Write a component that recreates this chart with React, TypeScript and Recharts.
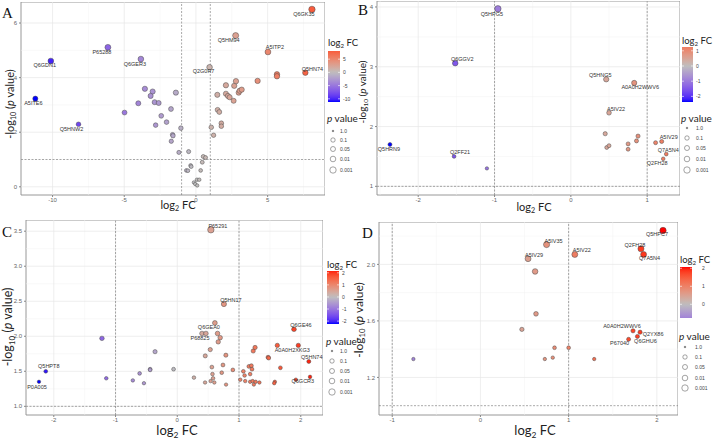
import { ReferenceArea, ReferenceLine, Scatter, ScatterChart, XAxis, YAxis, ZAxis } from "recharts";

// ---------- panel A ----------
const aFc = [
  8.09, 2.77, 5.02, 7.63, 0.95, -6.14, -10.12, -3.84, -11.2, -8.19,
  5.65, 5.65, -4.98, -4.02, -3.56, -3.02, -3.16, -2.88, -2.6, -2.81, -2.42, -2.05, -1.74, -1.4,
  -1.63, -1.6, -1.72, -1.05, -1.19, -0.51, -0.37, -0.33, -0.67, -0.56, 0.33, 0.44, 0.51, 0.67,
  0.07, 0.23, -0.14, -0.05, 0.09, 1.07, 1.23, 1.49, 1.51, 1.63, 1.77, 1.77, 2.09, 2.09, 2.23,
  2.35, 2.63, 2.67, 2.79, 2.98, 3.05, 3.19, 4.3
];
const aLogP = [
  6.5, 5.54, 4.94, 4.18, 4.38, 5.11, 4.61, 4.68, 3.23, 2.29,
  4.12, 4.05, 2.72, 3.06, 3.59, 3.49, 3.33, 3.1, 3.07, 2.26, 2.6, 2.37, 2.85, 3.45,
  1.91, 1.87, 1.67, 2.15, 1.26, 1.29, 0.78, 0.74, 0.6, 0.59, 0.6, 0.9, 1.11, 1.07,
  0.26, 0.26, 0.16, 0.1, 0.05, 2.18, 1.89, 3.37, 2.82, 2.74, 2.33, 2.22, 3.72, 3.41, 3.33,
  3.28, 3.15, 3.7, 3.87, 3.45, 3.52, 3.56, 3.88
];
const aLabels = ["Q6GK35", "Q5HM94", "A5ITP2", "Q5HN74", "Q2G0R7", "P65288", "Q6GDN1", "Q6GER3", "A5ITE6", "Q5HNW2"];
const aXTicks = [-10, -5, 0, 5];
const aYTicks = [0, 2, 4, 6];
const aLegendTicks = [5, 0, -5, -10];

// ---------- panel B ----------
const bFc = [
  -0.956, -1.515, -2.37, -1.53, 0.463, 0.83, 0.5, 1.19, 1.25, 1.21,
  -1.1, 0.45, 0.47, 0.5, 0.75, 0.75, 0.88, 0.86, 1.11
];
const bLogP = [
  3.97, 3.06, 1.7, 1.5, 2.79, 2.73, 2.23, 1.75, 1.54, 1.46,
  1.3, 1.88, 1.65, 1.68, 1.71, 1.62, 1.84, 1.76, 1.73
];
const bLabels = ["Q5HPG5", "Q6GGV2", "Q5HRN9", "Q2FF21", "Q5HNG5", "A0A0H2WWV6", "A5IV22", "A5IV29", "Q7A5N4", "Q2FH28"];
const bXTicks = [-2, -1, 0, 1];
const bYTicks = [1, 2, 3, 4];
const bLegendTicks = [1, 0, -1, -2];

// ---------- panel C ----------
const cFc = [
  0.544, 0.755, 0.609, 0.4, 1.89, 1.96, 2.13, 1.92, -2.13, -2.24,
  0.464, 0.652, 0.695, 0.663, 0.534, 0.787, 0.453, -0.36, -1.22, -1.15, -0.72, -0.61, -0.54,
  -0.44, -0.44, -0.06, 0.27, 0.45, 0.56, 0.57, 0.58, 0.54, 0.6, 0.74, 0.72, 0.79, 0.9, 1.02,
  1.07, 1.09, 1.1, 1.16, 1.2, 1.21, 1.18, 1.18, 1.22, 1.24, 1.27, 1.33, 1.23, 1.26, 1.47, 1.48,
  1.58, 1.57, 1.62, 1.67, 2.15
];
const cLogP = [
  3.52, 2.46, 2.19, 2.04, 2.1, 1.87, 1.64, 1.38, 1.5, 1.35,
  2.04, 2.04, 1.98, 1.92, 1.81, 1.73, 1.72, 1.78, 1.97, 1.4, 1.37, 1.47, 1.33,
  1.53, 1.52, 1.53, 1.41, 1.34, 1.56, 1.46, 1.4, 1.36, 1.34, 1.59, 1.48, 1.31, 1.52, 1.38,
  1.5, 1.44, 1.36, 1.57, 1.58, 1.53, 1.46, 1.35, 1.36, 1.31, 1.35, 1.34, 1.79, 1.84, 1.7, 1.69,
  1.35, 1.33, 1.87, 1.55, 1.42
];
const cLabels = ["P65291", "Q5HN17", "Q6GEA0", "P68825", "Q6GE46", "A0A0H2XKG3", "Q5HN74", "Q6GCR3", "Q5HPT8", "P0A005"];
const cXTicks = [-2, -1, 0, 1, 2];
const cYTicks = [1, 1.5, 2, 2.5, 3, 3.5];
const cLegendTicks = [2, 1, 0, -1, -2];

// ---------- panel D ----------
const dFc = [
  2.07, 1.82, 1.85, 0.75, 1.07, 0.54, 1.73, 1.81, 1.78, 1.68,
  0.62, 0.63, 0.47, 0.84, 1.0, 0.73, 0.82, 1.29, -0.76
];
const dLogP = [
  2.24, 2.11, 2.07, 2.14, 2.07, 2.04, 1.53, 1.52, 1.49, 1.47,
  1.95, 1.65, 1.54, 1.41, 1.41, 1.33, 1.34, 1.33, 1.33
];
const dLabels = ["Q5HPC7", "Q2FH28", "Q7A5N4", "A5IV35", "A5IV22", "A5IV29", "A0A0H2WWV6", "Q2YX86", "Q6GHU6", "P67040"];
const dXTicks = [-1, 0, 1, 2];
const dYTicks = [1.2, 1.6, 2.0];
const dLegendTicks = [2, 1, 0];

const pLegendLabels = ["1.0", "0.1", "0.05", "0.01", "0.001"];
const pLegendRadius = [0.8, 2.2, 2.5, 2.8, 3.2];

// ---------- colour scale (blue - grey - red, mixed in Lab) ----------
const LOW = [0, 0, 255];
const MID = [190, 190, 190];
const HIGH = [255, 0, 0];

function toLin(c: number) {
  const v = c / 255;
  return v <= 0.04045 ? v / 12.92 : Math.pow((v + 0.055) / 1.055, 2.4);
}
function fromLin(c: number) {
  const v = c <= 0.0031308 ? 12.92 * c : 1.055 * Math.pow(c, 1 / 2.4) - 0.055;
  return Math.round(Math.max(0, Math.min(1, v)) * 255);
}
function toLab(rgb: number[]) {
  const [r, g, b] = rgb.map(toLin);
  const x = (0.4124 * r + 0.3576 * g + 0.1805 * b) / 0.95047;
  const y = 0.2126 * r + 0.7152 * g + 0.0722 * b;
  const z = (0.0193 * r + 0.1192 * g + 0.9505 * b) / 1.08883;
  const f = (t: number) => (t > 0.008856 ? Math.cbrt(t) : 7.787 * t + 16 / 116);
  return [116 * f(y) - 16, 500 * (f(x) - f(y)), 200 * (f(y) - f(z))];
}
function fromLab(lab: number[]) {
  const fy = (lab[0] + 16) / 116;
  const fx = fy + lab[1] / 500;
  const fz = fy - lab[2] / 200;
  const inv = (t: number) => (t ** 3 > 0.008856 ? t ** 3 : (t - 16 / 116) / 7.787);
  const x = inv(fx) * 0.95047;
  const y = inv(fy);
  const z = inv(fz) * 1.08883;
  const r = 3.2406 * x - 1.5372 * y - 0.4986 * z;
  const g = -0.9689 * x + 1.8758 * y + 0.0415 * z;
  const b = 0.0557 * x - 0.204 * y + 1.057 * z;
  return `rgb(${fromLin(r)},${fromLin(g)},${fromLin(b)})`;
}
const midLab = toLab(MID);
const lowLab = toLab(LOW);
const highLab = toLab(HIGH);

function fcColor(v: number, limit: number) {
  const t = Math.max(-1, Math.min(1, v / limit));
  const end = t < 0 ? lowLab : highLab;
  const k = Math.abs(t);
  return fromLab(midLab.map((m, i) => m + (end[i] - m) * k));
}

type Pt = { fc: number; logp: number; label: string };

function buildPoints(fc: number[], logp: number[], labels: string[]): Pt[] {
  return fc.map((v, i) => ({ fc: v, logp: logp[i], label: labels[i] ?? "" }));
}

type Panel = {
  letter: string;
  points: Pt[];
  box: [number, number, number, number];
  xDomain: [number, number];
  yDomain: [number, number];
  xTicks: number[];
  yTicks: number[];
  xMinor: number[];
  yMinor: number[];
  yDecimals: number;
  legendTicks: number[];
  nudge: Record<string, [number, number]>;
  letterPos: [number, number];
  xTitle: [number, number, number];
  yTitle: [number, number, number];
  legend: {
    titleY: number;
    bar: [number, number, number, number];
    tickX: number;
    pTitleY: number;
    circleX: number;
    textX: number;
    entryY: number[];
  };
};

const panels: Panel[] = [
  {
    letter: "A",
    points: buildPoints(aFc, aLogP, aLabels),
    box: [21, 2, 325, 195],
    xDomain: [-12.2, 9.0],
    yDomain: [-0.3, 6.77],
    xTicks: aXTicks,
    yTicks: aYTicks,
    xMinor: [-7.5, -2.5, 2.5, 7.5],
    yMinor: [1, 3, 5],
    yDecimals: 0,
    legendTicks: aLegendTicks,
    nudge: {
      Q6GK35: [-8, 5], Q5HM94: [-7, 4.5], A5ITP2: [7, -4.5], Q5HN74: [7, -3.5], Q2G0R7: [-6, 4],
      P65288: [-6, 4.5], Q6GDN1: [-6, 4.5], Q6GER3: [-6, 4.5], A5ITE6: [-2, 4.5], Q5HNW2: [-7, 4.5]
    },
    letterPos: [2, 18],
    xTitle: [178, 209, 11],
    yTitle: [14, 104, 11],
    legend: {
      titleY: 46,
      bar: [328, 51, 340, 102],
      tickX: 343,
      pTitleY: 122,
      circleX: 333,
      textX: 340,
      entryY: [131, 140, 149, 159, 170]
    }
  },
  {
    letter: "B",
    points: buildPoints(bFc, bLogP, bLabels),
    box: [377, 1, 680, 195],
    xDomain: [-2.54, 1.43],
    yDomain: [0.855, 4.1],
    xTicks: bXTicks,
    yTicks: bYTicks,
    xMinor: [-2.5, -1.5, -0.5, 0.5],
    yMinor: [1.5, 2.5, 3.5],
    yDecimals: 0,
    legendTicks: bLegendTicks,
    nudge: {
      Q5HPG5: [-6, 5], Q6GGV2: [7, -4], Q5HRN9: [-1, 5], Q2FF21: [6, -4], Q5HNG5: [-6, -4],
      A0A0H2WWV6: [6, 4.5], A5IV22: [7, -4], A5IV29: [7, -4], Q7A5N4: [2, -4], Q2FH28: [-6, 4.5]
    },
    letterPos: [358, 15],
    xTitle: [534, 211, 11],
    yTitle: [366, 92, 10],
    legend: {
      titleY: 44,
      bar: [682, 47, 693, 102],
      tickX: 696,
      pTitleY: 122,
      circleX: 687,
      textX: 696,
      entryY: [128, 138, 148, 159, 170]
    }
  },
  {
    letter: "C",
    points: buildPoints(cFc, cLogP, cLabels),
    box: [26, 220, 323, 415],
    xDomain: [-2.45, 2.36],
    yDomain: [0.876, 3.66],
    xTicks: cXTicks,
    yTicks: cYTicks,
    xMinor: [-1.5, -0.5, 0.5, 1.5],
    yMinor: [1.25, 1.75, 2.25, 2.75, 3.25],
    yDecimals: 1,
    legendTicks: cLegendTicks,
    nudge: {
      P65291: [7, -4], Q5HN17: [7, -4], Q6GEA0: [-6, 4.3], P68825: [-2, 4.3], Q6GE46: [7, -4],
      A0A0H2XKG3: [-6, 4.7], Q5HN74: [3, -4], Q6GCR3: [7, 1], Q5HPT8: [3, -5], P0A005: [-2, 5.7]
    },
    letterPos: [2, 237],
    xTitle: [177, 435, 13],
    yTitle: [12, 327, 12.5],
    legend: {
      titleY: 268,
      bar: [327, 271, 339, 324],
      tickX: 342,
      pTitleY: 345,
      circleX: 332,
      textX: 340,
      entryY: [351, 361, 371, 381, 392]
    }
  },
  {
    letter: "D",
    points: buildPoints(dFc, dLogP, dLabels),
    box: [379, 222, 678, 415],
    xDomain: [-1.15, 2.24],
    yDomain: [0.934, 2.3],
    xTicks: dXTicks,
    yTicks: dYTicks,
    xMinor: [-0.5, 0.5, 1.5],
    yMinor: [1.4, 1.8, 2.2],
    yDecimals: 1,
    legendTicks: dLegendTicks,
    nudge: {
      Q5HPC7: [-6, 4], Q2FH28: [-6, -4], Q7A5N4: [6, 4], A5IV35: [7, -4], A5IV22: [7, -4.3],
      A5IV29: [6, -4], A0A0H2WWV6: [-11, -5], Q2YX86: [13, 1.3], Q6GHU6: [8, 4.7], P67040: [-9, 3.3]
    },
    letterPos: [362, 238],
    xTitle: [535, 435, 13],
    yTitle: [363, 320, 12],
    legend: {
      titleY: 263,
      bar: [680, 267, 692, 318],
      tickX: 702,
      pTitleY: 340,
      circleX: 685,
      textX: 695,
      entryY: [347, 357, 367, 378, 388]
    }
  }
];

const Y_AXIS_W = 20;
const X_AXIS_H = 12;
const titleFont = "Lato, 'Open Sans', sans-serif";

function fcRange(p: Panel) {
  const fcs = p.points.map((d) => d.fc);
  const min = Math.min(...fcs);
  const max = Math.max(...fcs);
  return { min, max, limit: Math.max(Math.abs(min), Math.abs(max)) };
}

function PanelChart({ p }: { p: Panel }) {
  const [l, t, r, b] = p.box;
  const { limit } = fcRange(p);
  const logps = p.points.map((d) => d.logp);
  const w = r - l + Y_AXIS_W;
  const h = b - t + X_AXIS_H;

  const dot = (props: any) => {
    const { cx, cy, payload } = props;
    if (cx == null || cy == null) return <g />;
    const rad = props.width ? props.width / 2 : 2;
    return <circle cx={cx} cy={cy} r={rad} fill={fcColor(payload.fc, limit)} stroke="#4a4a4a" strokeWidth={0.5} />;
  };
  const tag = (props: any) => {
    const { cx, cy, payload } = props;
    if (cx == null || cy == null || !payload.label) return <g />;
    const [dx, dy] = p.nudge[payload.label] ?? [-6, 4.5];
    return (
      <text x={cx + dx} y={cy + dy} textAnchor="middle" dominantBaseline="central" fontSize={5.5} fill="#333"
        fontFamily="'Liberation Sans', Arial, sans-serif">
        {payload.label}
      </text>
    );
  };

  return (
    <div style={{ position: "absolute", left: l - Y_AXIS_W, top: t, width: w, height: h }}>
      <ScatterChart width={w} height={h} margin={{ top: 0, right: 0, bottom: 0, left: 0 }}>
        <XAxis type="number" dataKey="fc" domain={p.xDomain} ticks={p.xTicks} allowDataOverflow axisLine={false}
          height={X_AXIS_H} tickSize={2} tickMargin={1} tick={{ fontSize: 6, fill: "#666" }} stroke="#888" />
        <YAxis type="number" dataKey="logp" domain={p.yDomain} ticks={p.yTicks} allowDataOverflow axisLine={false}
          width={Y_AXIS_W} tickSize={2} tickMargin={2} tick={{ fontSize: 6, fill: "#666" }} stroke="#888"
          tickFormatter={(v: number) => v.toFixed(p.yDecimals)} />
        <ZAxis type="number" dataKey="logp" domain={[Math.min(...logps), Math.max(...logps)]} range={[9, 32]} />
        {p.xMinor.map((v) => (
          <ReferenceLine key={`xm${v}`} x={v} stroke="#f2f2f2" strokeWidth={0.5} />
        ))}
        {p.yMinor.map((v) => (
          <ReferenceLine key={`ym${v}`} y={v} stroke="#f2f2f2" strokeWidth={0.5} />
        ))}
        {p.xTicks.map((v) => (
          <ReferenceLine key={`xg${v}`} x={v} stroke="#e6e6e6" strokeWidth={0.7} />
        ))}
        {p.yTicks.map((v) => (
          <ReferenceLine key={`yg${v}`} y={v} stroke="#e6e6e6" strokeWidth={0.7} />
        ))}
        <ReferenceLine x={-1} stroke="#6e6e6e" strokeWidth={0.6} strokeDasharray="2 1.5" />
        <ReferenceLine x={1} stroke="#6e6e6e" strokeWidth={0.6} strokeDasharray="2 1.5" />
        <ReferenceLine y={1} stroke="#6e6e6e" strokeWidth={0.6} strokeDasharray="2 1.5" />
        <Scatter data={p.points} dataKey="logp" shape={dot} isAnimationActive={false} />
        <Scatter data={p.points} dataKey="logp" shape={tag} isAnimationActive={false} />
        <ReferenceArea x1={p.xDomain[0]} x2={p.xDomain[1]} y1={p.yDomain[0]} y2={p.yDomain[1]}
          fill="none" fillOpacity={0} stroke="#8c8c8c" strokeWidth={0.9} />
      </ScatterChart>
    </div>
  );
}

function Log2FC({ x, y, size, anchor = "middle" }: { x: number; y: number; size: number; anchor?: string }) {
  return (
    <text x={x} y={y} fontSize={size} textAnchor={anchor as any} fill="#222" fontFamily={titleFont}>
      log<tspan fontSize={size * 0.65} dy={size * 0.2}>2</tspan>
      <tspan dy={-size * 0.2}> FC</tspan>
    </text>
  );
}

function Annotations({ p }: { p: Panel }) {
  const { min, max, limit } = fcRange(p);
  const lg = p.legend;
  const [bx0, by0, bx1, by1] = lg.bar;
  const gid = `grad${p.letter}`;
  const stops = Array.from({ length: 21 }, (_, i) => i / 20);
  const barY = (v: number) => by0 + ((max - v) / (max - min)) * (by1 - by0);
  const [yx, yy, ys] = p.yTitle;

  return (
    <g>
      <text x={p.letterPos[0]} y={p.letterPos[1]} fontSize={15} fontFamily="'Liberation Serif', serif" fill="#111">
        {p.letter}
      </text>
      <Log2FC x={p.xTitle[0]} y={p.xTitle[1]} size={p.xTitle[2]} />
      <text transform={`translate(${yx},${yy}) rotate(-90)`} textAnchor="middle" fontSize={ys} fill="#222"
        fontFamily={titleFont}>
        -log<tspan fontSize={ys * 0.65} dy={ys * 0.2}>10</tspan>
        <tspan dy={-ys * 0.2}> (</tspan>
        <tspan fontStyle="italic">p</tspan> value)
      </text>

      <defs>
        <linearGradient id={gid} x1="0" y1="0" x2="0" y2="1">
          {stops.map((s) => (
            <stop key={s} offset={s} stopColor={fcColor(max - (max - min) * s, limit)} />
          ))}
        </linearGradient>
      </defs>
      <Log2FC x={bx0} y={lg.titleY} size={9.5} anchor="start" />
      <rect x={bx0} y={by0} width={bx1 - bx0} height={by1 - by0} fill={`url(#${gid})`} />
      {p.legendTicks.map((v) => (
        <g key={v}>
          <line x1={bx0} x2={bx0 + 2} y1={barY(v)} y2={barY(v)} stroke="#fff" strokeWidth={0.6} />
          <line x1={bx1 - 2} x2={bx1} y1={barY(v)} y2={barY(v)} stroke="#fff" strokeWidth={0.6} />
          <text x={lg.tickX} y={barY(v)} dominantBaseline="central" fontSize={5} fill="#444"
            fontFamily="'Liberation Sans', Arial, sans-serif">
            {v}
          </text>
        </g>
      ))}

      <text x={bx0 - 1} y={lg.pTitleY} fontSize={10} fill="#222" fontFamily={titleFont}>
        <tspan fontStyle="italic">p</tspan> value
      </text>
      {pLegendLabels.map((lab, i) => (
        <g key={lab}>
          <circle cx={lg.circleX} cy={lg.entryY[i]} r={pLegendRadius[i]} fill={i === 0 ? "#666" : "#fff"}
            stroke="#666" strokeWidth={0.6} />
          <text x={lg.textX} y={lg.entryY[i]} dominantBaseline="central" fontSize={5} fill="#444"
            fontFamily="'Liberation Sans', Arial, sans-serif">
            {lab}
          </text>
        </g>
      ))}
    </g>
  );
}

export default function App() {
  return (
    <div style={{ position: "absolute", left: 0, top: 0, width: 713, height: 440, background: "#fff",
      fontFamily: "'Liberation Sans', Arial, sans-serif", overflow: "hidden" }}>
      {panels.map((p) => (
        <PanelChart key={p.letter} p={p} />
      ))}
      <svg width={713} height={440} style={{ position: "absolute", left: 0, top: 0, pointerEvents: "none" }}>
        {panels.map((p) => (
          <Annotations key={p.letter} p={p} />
        ))}
      </svg>
    </div>
  );
}
